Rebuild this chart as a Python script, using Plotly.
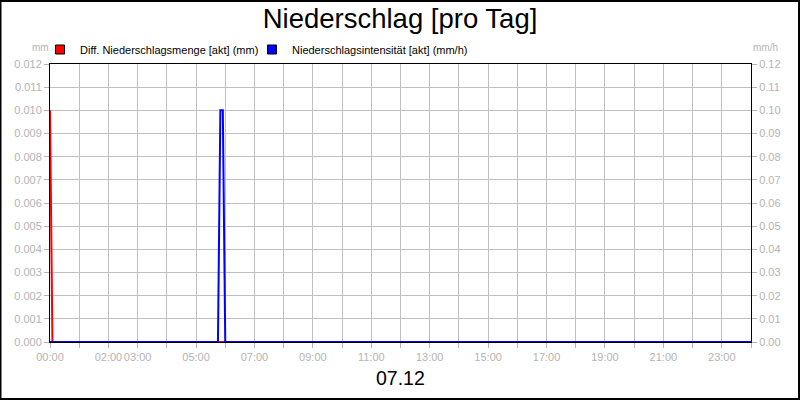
import plotly.graph_objects as go

# data
day = "2023-12-07"
red_times = ["00:00", "00:05", "24:00"]
red_values = [0.010, 0.0, 0.0]          # Diff. Niederschlagsmenge [akt] (mm)
blue_times = ["00:00", "05:45", "05:50", "05:55", "06:00", "24:00"]
blue_values = [0.0, 0.0, 0.10, 0.10, 0.0, 0.0]   # Niederschlagsintensität [akt] (mm/h)

hours = list(range(25))
hour_labels = ["00:00", "", "02:00", "03:00", "", "05:00", "", "07:00", "", "09:00", "",
               "11:00", "", "13:00", "", "15:00", "", "17:00", "", "19:00", "", "21:00",
               "", "23:00", ""]


def to_dt(t):
    if t == "24:00":
        return "2023-12-08 00:00"
    return day + " " + t


grey = "#b4b4b4"
grid = "#c0c0c0"
font = "Liberation Sans, Arial, sans-serif"

fig = go.Figure()

# blue first so the red zero line sits on top of it
fig.add_trace(go.Scatter(x=[to_dt(t) for t in blue_times], y=blue_values, mode="lines",
                         line=dict(color="#0000ff", width=2), yaxis="y2", showlegend=False))
fig.add_trace(go.Scatter(x=[to_dt(t) for t in red_times], y=red_values, mode="lines",
                         line=dict(color="#ff0000", width=2), showlegend=False))

# legend entries with square symbols
fig.add_trace(go.Scatter(x=[None], y=[None], mode="markers", name="Diff. Niederschlagsmenge [akt] (mm)",
                         marker=dict(symbol="square", color="#ff0000", size=9,
                                     line=dict(color="black", width=1)), legend="legend"))
fig.add_trace(go.Scatter(x=[None], y=[None], mode="markers", name="Niederschlagsintensität [akt] (mm/h)",
                         marker=dict(symbol="square", color="#0000ff", size=9,
                                     line=dict(color="black", width=1)), legend="legend2"))

leg = dict(orientation="h", xanchor="left", y=1.0, yanchor="bottom",
           font=dict(size=11, color="black"), bgcolor="rgba(0,0,0,0)", itemwidth=30)

fig.update_layout(
    width=800, height=400,
    margin=dict(l=50, r=49, t=64, b=58),
    paper_bgcolor="white", plot_bgcolor="white",
    font=dict(family=font, size=11, color="black"),
    title=dict(text="Niederschlag [pro Tag]", x=0.5, xanchor="center", y=0.955, yanchor="middle",
               font=dict(size=27.5, color="black")),
    showlegend=True,
    legend=dict(leg, x=-10 / 701),
    legend2=dict(leg, x=202 / 701),
    xaxis=dict(type="date", range=[to_dt("00:00"), to_dt("24:00")],
               tickmode="array", tickvals=[to_dt("%02d:00" % h) if h < 24 else to_dt("24:00") for h in hours],
               ticktext=hour_labels, tickangle=0, showgrid=True, gridcolor=grid, gridwidth=1,
               ticks="outside", ticklen=5, tickcolor=grey, tickfont=dict(color=grey, size=11),
               showline=True, linecolor="black", linewidth=1, mirror=True, zeroline=False),
    yaxis=dict(range=[0, 0.012], dtick=0.001, tickformat=".3f", showgrid=True, gridcolor=grid,
               ticks="outside", ticklen=5, tickcolor=grey, tickfont=dict(color=grey, size=11),
               showline=True, linecolor="black", linewidth=1, mirror=True, zeroline=False),
    yaxis2=dict(range=[0, 0.12], dtick=0.01, tickformat=".2f", overlaying="y", side="right",
                showgrid=False, ticks="outside", ticklen=5, tickcolor=grey,
                tickfont=dict(color=grey, size=11), showline=True, linecolor="black",
                linewidth=1, zeroline=False),
)

fig.add_annotation(text="mm", xref="paper", yref="paper", x=-10 / 701, y=1 + 16 / 278,
                   showarrow=False, font=dict(color=grey, size=10), xanchor="center", yanchor="middle")
fig.add_annotation(text="mm/h", xref="paper", yref="paper", x=1 + 14 / 701, y=1 + 16 / 278,
                   showarrow=False, font=dict(color=grey, size=10), xanchor="center", yanchor="middle")
fig.add_annotation(text="07.12", xref="paper", yref="paper", x=0.5, y=-36 / 278,
                   showarrow=False, font=dict(color="black", size=19.5), xanchor="center", yanchor="middle")

# outer frame
fig.add_shape(type="rect", xref="paper", yref="paper",
              x0=-50 / 701 + 0.5 / 701, x1=1 + 49 / 701 - 1 / 701,
              y0=-58 / 278 + 1 / 278, y1=1 + 64 / 278 - 1 / 278,
              line=dict(color="black", width=2), layer="above")

fig.write_html("out.html", config={"displayModeBar": False},
               post_script="document.body.style.margin='0px';")
